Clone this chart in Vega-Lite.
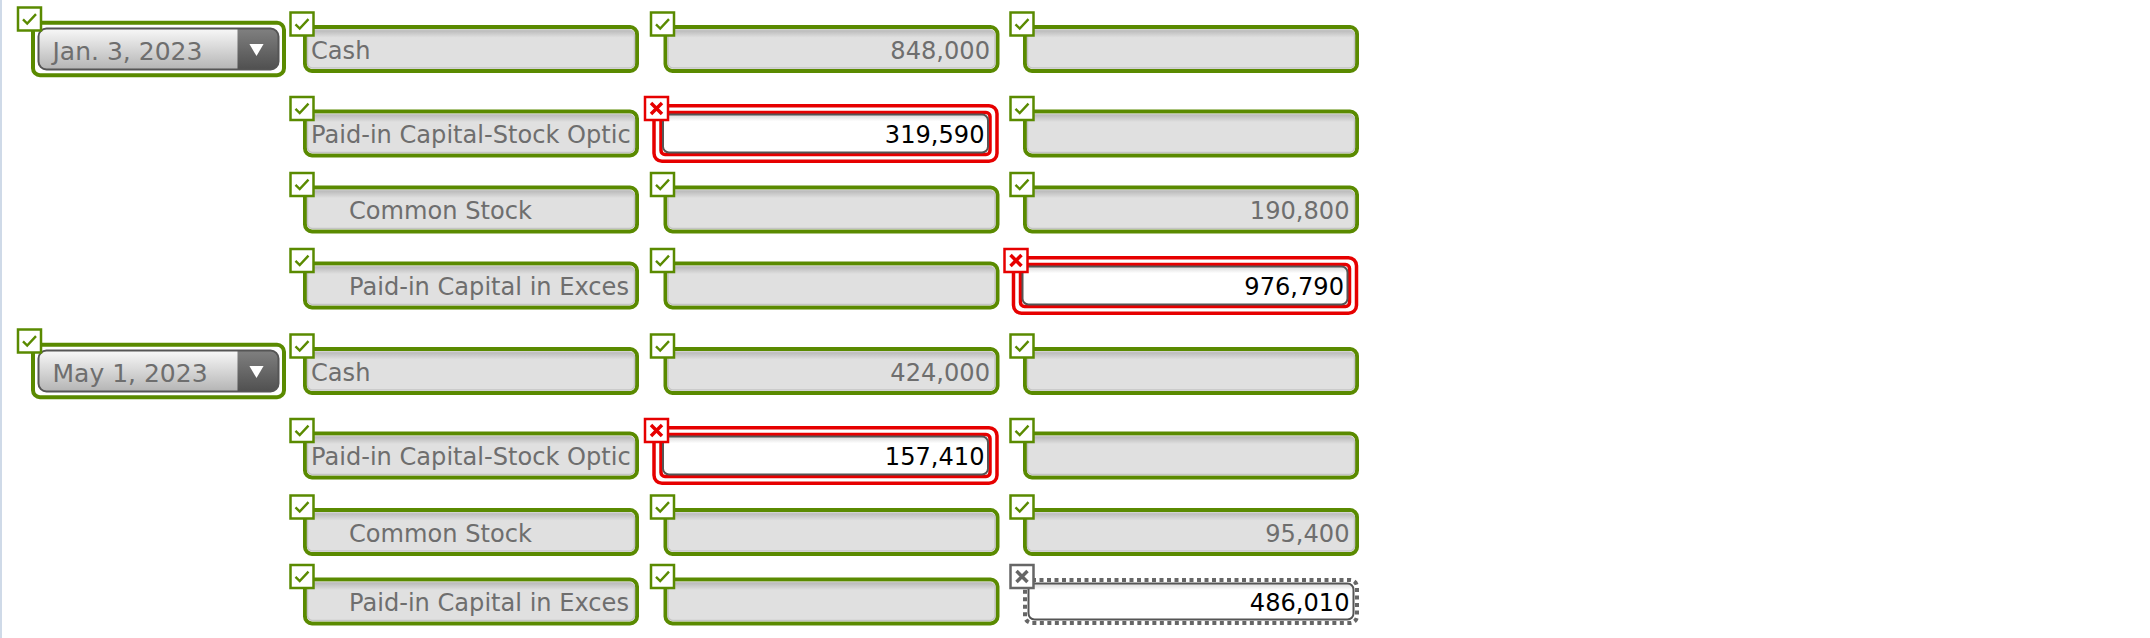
{
  "$schema": "https://vega.github.io/schema/vega-lite/v6.json",
  "width": 2150,
  "height": 638,
  "padding": 0,
  "autosize": "none",
  "background": "white",
  "config": {"view": {"stroke": null}, "text": {"font": "DejaVu Sans", "fontSize": 24.1}},
  "datasets": {
    "cells": [
      {"row": 1, "column": 0, "text": "Jan. 3, 2023", "status": "correct", "indent": 0},
      {"row": 1, "column": 1, "text": "Cash", "status": "correct", "indent": 0},
      {"row": 1, "column": 2, "text": "848,000", "status": "correct", "indent": 0},
      {"row": 1, "column": 3, "text": "", "status": "correct", "indent": 0},
      {"row": 2, "column": 1, "text": "Paid-in Capital-Stock Optic", "status": "correct", "indent": 0},
      {"row": 2, "column": 2, "text": "319,590", "status": "incorrect", "indent": 0},
      {"row": 2, "column": 3, "text": "", "status": "correct", "indent": 0},
      {"row": 3, "column": 1, "text": "Common Stock", "status": "correct", "indent": 1},
      {"row": 3, "column": 2, "text": "", "status": "correct", "indent": 0},
      {"row": 3, "column": 3, "text": "190,800", "status": "correct", "indent": 0},
      {"row": 4, "column": 1, "text": "Paid-in Capital in Exces", "status": "correct", "indent": 1},
      {"row": 4, "column": 2, "text": "", "status": "correct", "indent": 0},
      {"row": 4, "column": 3, "text": "976,790", "status": "incorrect", "indent": 0},
      {"row": 5, "column": 0, "text": "May 1, 2023", "status": "correct", "indent": 0},
      {"row": 5, "column": 1, "text": "Cash", "status": "correct", "indent": 0},
      {"row": 5, "column": 2, "text": "424,000", "status": "correct", "indent": 0},
      {"row": 5, "column": 3, "text": "", "status": "correct", "indent": 0},
      {"row": 6, "column": 1, "text": "Paid-in Capital-Stock Optic", "status": "correct", "indent": 0},
      {"row": 6, "column": 2, "text": "157,410", "status": "incorrect", "indent": 0},
      {"row": 6, "column": 3, "text": "", "status": "correct", "indent": 0},
      {"row": 7, "column": 1, "text": "Common Stock", "status": "correct", "indent": 1},
      {"row": 7, "column": 2, "text": "", "status": "correct", "indent": 0},
      {"row": 7, "column": 3, "text": "95,400", "status": "correct", "indent": 0},
      {"row": 8, "column": 1, "text": "Paid-in Capital in Exces", "status": "correct", "indent": 1},
      {"row": 8, "column": 2, "text": "", "status": "correct", "indent": 0},
      {"row": 8, "column": 3, "text": "486,010", "status": "unmarked", "indent": 0}
    ]
  },
  "layer": [
    {
      "data": {"values": [{"column": -1}]},
      "mark": {"type": "rule", "stroke": "#cfdae8", "strokeWidth": 2},
      "encoding": {
        "x": {"field": "column", "type": "quantitative", "axis": null,
          "scale": {"domain": [-1, 0, 1, 2, 3], "range": [1, 158.5, 471, 831.5, 1191], "nice": false, "zero": false}}
      }
    },
    {
      "data": {"name": "cells"},
      "encoding": {
        "x": {"field": "column", "type": "quantitative", "axis": null,
          "scale": {"domain": [-1, 0, 1, 2, 3], "range": [1, 158.5, 471, 831.5, 1191], "nice": false, "zero": false}},
        "y": {"field": "row", "type": "quantitative", "axis": null,
          "scale": {"domain": [1, 2, 3, 4, 5, 6, 7, 8], "range": [49, 133.5, 209.5, 285.5, 371, 455.5, 532, 601.5], "nice": false, "zero": false}}
      },
      "layer": [
        {
          "transform": [{"filter": "datum.column == 0"}],
          "layer": [
            {"mark": {"type": "rect", "width": 251, "height": 52.5, "fill": "white", "stroke": "#5a8a00", "strokeWidth": 4, "cornerRadius": 7}},
            {"mark": {"type": "rect", "width": 240, "height": 41, "cornerRadius": 8,
              "fill": {"gradient": "linear", "x1": 0, "y1": 0, "x2": 0, "y2": 1, "stops": [{"offset": 0, "color": "#f8f8f8"}, {"offset": 1, "color": "#b4b4b4"}]}}},
            {"mark": {"type": "rect", "width": 41, "height": 41, "xOffset": 99.5, "cornerRadiusTopRight": 8, "cornerRadiusBottomRight": 8,
              "fill": {"gradient": "linear", "x1": 0, "y1": 0, "x2": 0, "y2": 1, "stops": [{"offset": 0, "color": "#808080"}, {"offset": 1, "color": "#505050"}]}}},
            {"mark": {"type": "rect", "width": 240, "height": 41, "cornerRadius": 8, "fill": null, "stroke": "#555555", "strokeWidth": 2}},
            {"mark": {"type": "point", "shape": "triangle-down", "size": 200, "filled": true, "fill": "white", "stroke": null, "opacity": 1, "xOffset": 98, "yOffset": 1}},
            {"mark": {"type": "text", "align": "left", "baseline": "middle", "dx": -106, "dy": 2.5, "fill": "#6e6e6e", "fontSize": 25}, "encoding": {"text": {"field": "text"}}}
          ]
        },
        {
          "transform": [{"filter": "datum.column > 0 && datum.status == 'correct'"}],
          "layer": [
            {"mark": {"type": "rect", "width": 332, "height": 44, "fill": "white", "stroke": "#5a8a00", "strokeWidth": 4, "cornerRadius": 7}},
            {"mark": {"type": "rect", "width": 327, "height": 38, "cornerRadius": 5, "stroke": "#c4c4c4", "strokeWidth": 1.5,
              "fill": {"gradient": "linear", "x1": 0, "y1": 0, "x2": 0, "y2": 1, "stops": [{"offset": 0, "color": "#b8b8b8"}, {"offset": 0.2, "color": "#e0e0e0"}, {"offset": 1, "color": "#e0e0e0"}]}}}
          ]
        },
        {
          "transform": [{"filter": "datum.status == 'incorrect'"}],
          "layer": [
            {"mark": {"type": "rect", "width": 343, "height": 55.5, "xOffset": -6, "fill": "white", "stroke": "#e60000", "strokeWidth": 3.5, "cornerRadius": 8}},
            {"mark": {"type": "rect", "width": 329, "height": 42, "xOffset": -6, "fill": "white", "stroke": "#e60000", "strokeWidth": 3.5, "cornerRadius": 4}},
            {"mark": {"type": "rect", "width": 325, "height": 38, "xOffset": -6, "cornerRadius": 6, "stroke": "#555555", "strokeWidth": 2,
              "fill": {"gradient": "linear", "x1": 0, "y1": 0, "x2": 0, "y2": 1, "stops": [{"offset": 0, "color": "#d8d8d8"}, {"offset": 0.18, "color": "#ffffff"}, {"offset": 1, "color": "#ffffff"}]}}}
          ]
        },
        {
          "transform": [{"filter": "datum.status == 'unmarked'"}],
          "layer": [
            {"mark": {"type": "rect", "width": 332, "height": 43, "fill": "white", "stroke": "#666666", "strokeWidth": 4, "strokeDash": [4, 3.5], "cornerRadius": 7}},
            {"mark": {"type": "rect", "width": 325, "height": 36, "cornerRadius": 6, "stroke": "#555555", "strokeWidth": 2,
              "fill": {"gradient": "linear", "x1": 0, "y1": 0, "x2": 0, "y2": 1, "stops": [{"offset": 0, "color": "#d8d8d8"}, {"offset": 0.18, "color": "#ffffff"}, {"offset": 1, "color": "#ffffff"}]}}}
          ]
        },
        {
          "transform": [{"filter": "datum.column == 1 && datum.indent == 0"}],
          "mark": {"type": "text", "align": "left", "baseline": "middle", "dx": -160, "dy": 2.5, "fill": "#6e6e6e"},
          "encoding": {"text": {"field": "text"}}
        },
        {
          "transform": [{"filter": "datum.column == 1 && datum.indent == 1"}],
          "mark": {"type": "text", "align": "left", "baseline": "middle", "dx": -122, "dy": 2.5, "fill": "#6e6e6e"},
          "encoding": {"text": {"field": "text"}}
        },
        {
          "transform": [{"filter": "datum.column > 1 && datum.status == 'correct'"}],
          "mark": {"type": "text", "align": "right", "baseline": "middle", "dx": 158.5, "dy": 2.5, "fill": "#6e6e6e"},
          "encoding": {"text": {"field": "text"}}
        },
        {
          "transform": [{"filter": "datum.status == 'incorrect'"}],
          "mark": {"type": "text", "align": "right", "baseline": "middle", "dx": 153, "dy": 2.5, "fill": "#000000"},
          "encoding": {"text": {"field": "text"}}
        },
        {
          "transform": [{"filter": "datum.status == 'unmarked'"}],
          "mark": {"type": "text", "align": "right", "baseline": "middle", "dx": 158.5, "dy": 2.5, "fill": "#000000"},
          "encoding": {"text": {"field": "text"}}
        },
        {
          "transform": [{"filter": "datum.column == 0"}],
          "layer": [
            {"mark": {"type": "rect", "width": 23, "height": 23, "xOffset": -129, "yOffset": -30, "fill": "white", "stroke": "#5a8a00", "strokeWidth": 2.5}},
            {"mark": {"type": "point", "shape": "M-1,0.05L-0.35,0.7L1,-0.75", "size": 169, "filled": false, "fill": null, "stroke": "#5a8a00", "strokeWidth": 2.4, "opacity": 1, "xOffset": -129, "yOffset": -30}}
          ]
        },
        {
          "transform": [{"filter": "datum.column > 0 && datum.status == 'correct'"}],
          "layer": [
            {"mark": {"type": "rect", "width": 23, "height": 23, "xOffset": -169, "yOffset": -25, "fill": "white", "stroke": "#5a8a00", "strokeWidth": 2.5}},
            {"mark": {"type": "point", "shape": "M-1,0.05L-0.35,0.7L1,-0.75", "size": 169, "filled": false, "fill": null, "stroke": "#5a8a00", "strokeWidth": 2.4, "opacity": 1, "xOffset": -169, "yOffset": -25}}
          ]
        },
        {
          "transform": [{"filter": "datum.status == 'incorrect'"}],
          "layer": [
            {"mark": {"type": "rect", "width": 23, "height": 23, "xOffset": -175, "yOffset": -25, "fill": "white", "stroke": "#e60000", "strokeWidth": 2.5}},
            {"mark": {"type": "point", "shape": "M-1,-1L1,1M1,-1L-1,1", "size": 121, "filled": false, "fill": null, "stroke": "#e60000", "strokeWidth": 3.5, "opacity": 1, "xOffset": -175, "yOffset": -25}}
          ]
        },
        {
          "transform": [{"filter": "datum.status == 'unmarked'"}],
          "layer": [
            {"mark": {"type": "rect", "width": 23, "height": 23, "xOffset": -169, "yOffset": -25, "fill": "white", "stroke": "#666666", "strokeWidth": 2.5}},
            {"mark": {"type": "point", "shape": "M-1,-1L1,1M1,-1L-1,1", "size": 121, "filled": false, "fill": null, "stroke": "#666666", "strokeWidth": 3.5, "opacity": 1, "xOffset": -169, "yOffset": -25}}
          ]
        }
      ]
    }
  ]
}
